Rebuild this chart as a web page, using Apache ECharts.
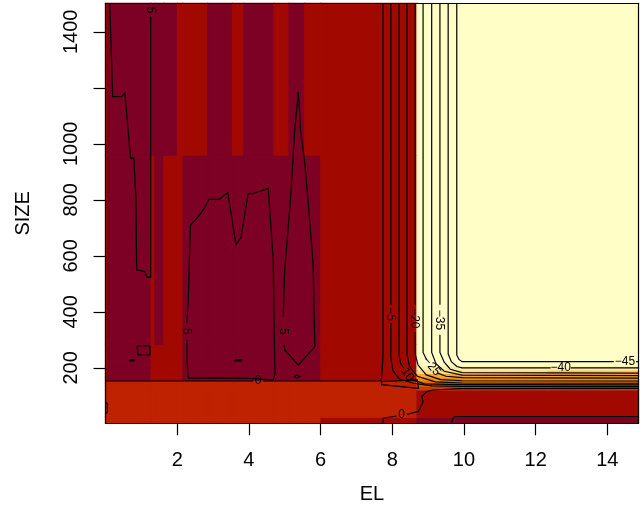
<!DOCTYPE html>
<html><head><meta charset="utf-8">
<script src="https://cdn.jsdelivr.net/npm/echarts@6/dist/echarts.min.js"></script>
<style>html,body{margin:0;padding:0;background:#fff}#c{width:644px;height:510px}</style>
</head><body><div id="c"></div><script>
// ---- axes ----
const xRange = [0, 14.87];
const yRange = [2, 1502];
const xTicks = [2, 4, 6, 8, 10, 12, 14];
const yTicks = [200, 400, 600, 800, 1000, 1200, 1400];
const yTickLabels = [200, 400, 600, 800, 1000, 1400];

// ---- image cells (EL edges, SIZE edges, colour bin per cell, rows bottom->top) ----
const xEdges = [0, 0.06, 1.27, 1.38, 1.63, 2.01, 2.16, 2.85, 3.54, 3.86, 4.70, 5.12, 5.56, 6.01, 8.69, 12.34, 14.87];
const yEdges = [2, 24, 121, 134, 146, 155, 167, 180, 193, 207, 285, 960, 1502];
const binRows = [
  [10,10,10,10,10,10,10,10,10,10,10,10,10,11,12,12],
  [10,10,10,10,10,10,10,10,10,10,10,10,10,10,11,11],
  [10,10,10,10,10,10,10,10,10,10,10,10,10,10, 9, 9],
  [10,10,10,10,10,10,10,10,10,10,10,10,10,10, 8, 8],
  [10,10,10,10,10,10,10,10,10,10,10,10,10,10, 7, 7],
  [11,12,11,11,11,11,12,12,12,12,12,12,12,11, 6, 6],
  [11,12,11,11,11,11,12,12,12,12,12,12,12,11, 5, 5],
  [11,12,11,11,11,11,12,12,12,12,12,12,12,11, 3, 4],
  [11,12,11,11,11,11,12,12,12,12,12,12,12,11, 2, 2],
  [11,12,11,11,11,11,12,12,12,12,12,12,12,11, 1, 1],
  [11,12,11,12,11,11,12,12,12,12,12,12,12,11, 1, 1],
  [11,12,12,12,12,11,11,12,11,12,11,12,11,11, 1, 1]
];
const palette = ['#FFFEC6','#FDEDA5','#FCD887','#FBBF5C','#F8A532','#F18A12','#E56C00','#D65000','#C83A00','#BF2200','#A10900','#7D0025'];

// ---- contour lines [EL, SIZE] ----
const level5 = [
  [[0.12,1502],[0.20,1169],[0.45,1169],[0.54,1181],[0.70,949],[0.79,949],[0.85,800],[0.87,550],[1.10,544],[1.15,524],[1.26,524],[1.26,1454]],
  [[0.88,278],[1.24,278],[1.24,246],[0.91,246],[0.88,278]],
  [[0.68,229],[0.80,229],[0.80,225],[0.68,225],[0.68,229]],
  [[3.61,229],[3.80,229],[3.80,225],[3.61,225],[3.61,229]],
  [[5.26,169],[5.34,174],[5.42,169],[5.34,164],[5.26,169]],
  [[0,76],[0.05,73],[0.05,41],[0,38]],
  [[2.27,300],[2.28,216],[2.31,163],[3.19,164],[4.03,162],[4.45,159],[4.68,157],[4.73,181],[4.70,371],[4.68,586],[4.54,841],[4.10,822],[3.98,822],[3.78,666],[3.64,639],[3.41,826],[3.17,802],[2.89,802],[2.73,764],[2.59,740],[2.37,710],[2.34,586],[2.31,443],[2.27,360]],
  [[4.98,282],[5.00,264],[5.38,210],[5.84,276],[5.79,574],[5.65,800],[5.56,931],[5.44,1050],[5.38,1186],[5.28,1050],[5.16,800],[5.00,550],[4.96,383]],
  [[9.65,2],[9.70,24],[9.77,26],[14.87,26]]
];
const level0 = [
  [[0,153],[4.12,153]],
  [[4.40,153],[7.66,153],[7.70,160],[7.74,240],[7.74,1502]],
  [[7.70,151],[8.70,157],[8.73,127],[7.70,140],[7.70,151]],
  [[7.74,2],[7.75,20],[8.12,28]],
  [[8.41,34],[8.73,44],[8.86,79],[8.82,97],[8.96,115],[9.14,121],[9.89,126],[14.87,127]]
];
const levelM5 = [
  [[7.96,1502],[7.96,425]],
  [[7.96,360],[7.96,235],[8.02,190],[8.20,160],[8.60,145],[9.10,136],[9.95,134],[14.87,133]]
];
const levelM10 = [
  [[8.19,1502],[8.19,245],[8.24,212]],
  [[8.50,160],[8.90,143],[9.95,140],[14.87,139]]
];
const levelM15 = [
  [[8.41,1502],[8.41,250],[8.48,205],[8.70,170],[9.20,150],[9.95,146],[14.87,145]]
];
const levelM20 = [
  [[8.64,1502],[8.64,425]],
  [[8.64,328],[8.64,250],[8.72,210],[8.95,175],[9.35,158],[9.95,154],[14.87,153]]
];
const levelM25 = [
  [[8.86,1502],[8.86,255],[8.96,228]],
  [[9.25,182],[9.50,170],[9.95,165],[14.87,163]]
];
const levelM30 = [
  [[9.10,1502],[9.10,255],[9.22,215],[9.45,188],[9.95,174],[14.87,172]]
];
const levelM35 = [
  [[9.33,1502],[9.33,425]],
  [[9.33,318],[9.33,255],[9.45,220],[9.62,195],[9.95,183],[14.87,181]]
];
const levelM40 = [
  [[9.56,1502],[9.56,250],[9.65,222],[9.80,205],[9.95,200],[12.42,200]],
  [[12.98,200],[14.87,200]]
];
const levelM45 = [
  [[9.80,1502],[9.80,246],[9.86,230],[9.95,222],[14.18,222]],
  [[14.80,222],[14.87,222]]
];
// contour labels: text, EL, SIZE, angle (deg)
const labelText = ['5','5','5','0','0','\u22125','\u221220','\u221235','\u221210','\u221225','\u221240','\u221245'];
const labelEL   = [1.26, 2.25, 4.95, 4.26, 8.26, 7.95, 8.62, 9.32, 8.37, 9.10, 12.70, 14.49];
const labelSIZE = [1478, 330, 330, 153, 31, 392, 377, 371, 186, 205, 200, 221];
const labelAngle= [-90, -90, -90, 0, 0, -90, -90, -90, -55, -50, 0, 0];

const allPaths = [].concat(level5, level0, levelM5, levelM10, levelM15, levelM20, levelM25, levelM30, levelM35, levelM40, levelM45);

const cellData = [];
binRows.forEach((row, i) => row.forEach((b, j) => {
  cellData.push([xEdges[j], yEdges[i], xEdges[j + 1], yEdges[i + 1], b]);
}));

const FONT = '"Liberation Sans", Arial, Helvetica, sans-serif';
const chart = echarts.init(document.getElementById('c'), null, {renderer: 'canvas'});
const axisLineStyle = {color: '#000', width: 1.2};
chart.setOption({
  animation: false,
  backgroundColor: '#fff',
  textStyle: {fontFamily: FONT},
  grid: {left: 105.5, top: 3.3, width: 533, height: 420},
  xAxis: [{
    type: 'value', min: xRange[0], max: xRange[1], position: 'bottom', z: 10,
    axisLine: {show: true, onZero: false, lineStyle: axisLineStyle},
    axisTick: {show: true, length: 12, customValues: xTicks, lineStyle: axisLineStyle},
    axisLabel: {customValues: xTicks, margin: 27, fontSize: 20, color: '#000', fontFamily: FONT,
      formatter: v => String(v)},
    splitLine: {show: false},
    name: 'EL', nameLocation: 'middle', nameGap: 61,
    nameTextStyle: {fontSize: 20, color: '#000', fontFamily: FONT}
  }, {
    type: 'value', min: xRange[0], max: xRange[1], position: 'top', z: 10,
    axisLine: {show: true, onZero: false, lineStyle: axisLineStyle},
    axisTick: {show: false}, axisLabel: {show: false}, splitLine: {show: false}
  }],
  yAxis: [{
    type: 'value', min: yRange[0], max: yRange[1], position: 'left', z: 10,
    axisLine: {show: true, onZero: false, lineStyle: axisLineStyle},
    axisTick: {show: true, length: 12, customValues: yTicks, lineStyle: axisLineStyle},
    axisLabel: {customValues: yTickLabels, rotate: 90, margin: 24, fontSize: 20, color: '#000', fontFamily: FONT,
      formatter: v => String(v)},
    splitLine: {show: false},
    name: 'SIZE', nameLocation: 'middle', nameGap: 72,
    nameTextStyle: {fontSize: 20, color: '#000', fontFamily: FONT}
  }, {
    type: 'value', min: yRange[0], max: yRange[1], position: 'right', z: 10,
    axisLine: {show: true, onZero: false, lineStyle: axisLineStyle},
    axisTick: {show: false}, axisLabel: {show: false}, splitLine: {show: false}
  }],
  series: [{
    type: 'custom', z: 1,
    data: cellData,
    encode: {x: [0, 2], y: [1, 3]},
    renderItem: function (params, api) {
      const p0 = api.coord([api.value(0), api.value(3)]);
      const p1 = api.coord([api.value(2), api.value(1)]);
      const c = palette[api.value(4) - 1];
      return {type: 'rect', shape: {x: p0[0], y: p0[1], width: p1[0] - p0[0], height: p1[1] - p0[1]},
        style: {fill: c, stroke: c, lineWidth: 1.2}};
    }
  }, {
    type: 'custom', z: 3,
    data: allPaths.map((p, k) => [p[0][0], p[0][1], k]),
    encode: {x: 0, y: 1},
    renderItem: function (params, api) {
      const pts = allPaths[api.value(2)].map(q => api.coord(q));
      return {type: 'polyline', shape: {points: pts}, style: {stroke: '#000', lineWidth: 1.2, fill: null}};
    }
  }, {
    type: 'custom', z: 4,
    data: labelText.map((t, k) => [labelEL[k], labelSIZE[k], k]),
    encode: {x: 0, y: 1},
    renderItem: function (params, api) {
      const k = api.value(2);
      const p = api.coord([labelEL[k], labelSIZE[k]]);
      return {type: 'text', x: p[0], y: p[1], rotation: labelAngle[k] * Math.PI / 180,
        style: {text: labelText[k], fill: '#000', font: '12px ' + FONT, align: 'center', verticalAlign: 'middle'}};
    }
  }]
});
</script></body></html>
